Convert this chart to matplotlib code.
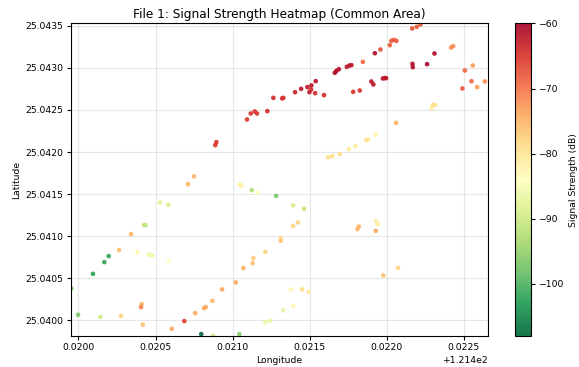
import numpy as np
import matplotlib
matplotlib.use('Agg')
import matplotlib.pyplot as plt

# longitude / latitude / signal (dB)
lon = [121.420888, 121.420895, 121.421094, 121.421118, 121.421144, 121.421159, 121.421226,
       121.421265, 121.421322, 121.421330, 121.421406, 121.421445, 121.421486, 121.421512,
       121.421540, 121.421499, 121.421510, 121.421536, 121.421594, 121.421664, 121.421674,
       121.421690, 121.421742, 121.421759, 121.421772, 121.421846, 121.421924, 121.421960,
       121.422021, 121.422031, 121.422047, 121.422064, 121.422166, 121.422196, 121.422220,
       121.422311, 121.422168, 121.422170, 121.422263, 121.421783, 121.421826, 121.421901,
       121.421914, 121.421976, 121.421989, 121.421997, 121.422419, 121.422432, 121.422508,
       121.422560, 121.422551, 121.422588, 121.422638, 121.422492,
       121.421620, 121.421648, 121.421696, 121.421755, 121.421798, 121.421867, 121.421880,
       121.421930, 121.422062, 121.422291, 121.422302, 121.422317,
       121.420750, 121.420711, 121.420529, 121.420583, 121.420425, 121.420436, 121.420341,
       121.420263, 121.420382, 121.420458, 121.420479, 121.420586, 121.420196, 121.420168,
       121.420094, 121.419953, 121.419997, 121.420142, 121.420276, 121.420410, 121.420406,
       121.420417, 121.420605, 121.420687, 121.420757, 121.420815, 121.420826, 121.420869,
       121.420797, 121.420873, 121.421044,
       121.421047, 121.421057, 121.421125, 121.421161, 121.421283, 121.421393, 121.421464,
       121.421393, 121.421425, 121.421313, 121.421313, 121.421213, 121.421135, 121.421131,
       121.421070, 121.421021, 121.420932, 121.421378, 121.421451, 121.421495, 121.421328,
       121.421395, 121.421213, 121.421244,
       121.421820, 121.421811, 121.421932, 121.421943, 121.421930, 121.422075, 121.421979]

lat = [25.042082, 25.042118, 25.042387, 25.042458, 25.042482, 25.042458, 25.042486,
       25.042644, 25.042637, 25.042644, 25.042711, 25.042750, 25.042771, 25.042791,
       25.042842, 25.042711, 25.042743, 25.042699, 25.042676, 25.042941, 25.042964,
       25.042984, 25.043012, 25.043028, 25.043032, 25.043071, 25.043174, 25.043218,
       25.043269, 25.043321, 25.043332, 25.043321, 25.043468, 25.043487, 25.043515,
       25.043171, 25.043047, 25.043008, 25.043044, 25.042715, 25.042731, 25.042838,
       25.042803, 25.042874, 25.042878, 25.042878, 25.043242, 25.043258, 25.042969,
       25.043028, 25.042842, 25.042771, 25.042838, 25.042755,
       25.041939, 25.041951, 25.041975, 25.042034, 25.042070, 25.042138, 25.042150,
       25.042204, 25.042347, 25.042521, 25.042560, 25.042560,
       25.041710, 25.041619, 25.041401, 25.041373, 25.041132, 25.041132, 25.041025,
       25.040835, 25.040808, 25.040784, 25.040772, 25.040704, 25.040764, 25.040692,
       25.040553, 25.040380, 25.040067, 25.040043, 25.040055, 25.040194, 25.040158,
       25.039948, 25.039900, 25.039992, 25.040087, 25.040146, 25.040158, 25.040233,
       25.039837, 25.039817, 25.039837,
       25.041615, 25.041599, 25.041547, 25.041520, 25.041480, 25.041366, 25.041325,
       25.041123, 25.041164, 25.040977, 25.040945, 25.040815, 25.040740, 25.040681,
       25.040621, 25.040451, 25.040368, 25.040368, 25.040368, 25.040340, 25.040119,
       25.040170, 25.039980, 25.039995,
       25.041116, 25.041084, 25.041179, 25.041144, 25.041064, 25.040625, 25.040534]

signal = [-65, -65, -65, -65, -65, -65, -64,
          -64, -65, -65, -63, -62, -62, -62,
          -62, -62, -64, -64, -64, -61, -61,
          -61, -62, -62, -62, -69, -61, -67,
          -68, -68, -68, -68, -67, -68, -68,
          -61, -61, -61, -60, -65, -65, -62,
          -62, -62, -62, -62, -72, -72, -69,
          -73, -69, -73, -72, -68,
          -79, -79, -79, -81, -81, -80, -80,
          -82, -75, -81, -79, -80,
          -75, -75, -88, -89, -91, -91, -75,
          -76, -83, -86, -86, -84, -102, -102,
          -102, -97, -97, -90, -78, -75, -71,
          -76, -74, -66, -74, -74, -74, -75,
          -108, -90, -96,
          -82, -82, -93, -84, -97, -89, -91,
          -78, -78, -79, -77, -78, -77, -76,
          -75, -74, -74, -83, -79, -81, -87,
          -83, -87, -87,
          -75, -75, -81, -81, -74, -78, -76]

fig = plt.figure(figsize=(5.79, 3.67), dpi=100)
ax = fig.add_axes([0.122, 0.085, 0.721, 0.851])
cax = fig.add_axes([0.8895, 0.085, 0.0276, 0.851])

sc = ax.scatter(lon, lat, c=signal, cmap='RdYlGn_r', vmin=-108, vmax=-60,
                s=11, alpha=0.9, linewidths=0)
ax.set_xlim(121.419949, 121.422659)
ax.set_ylim(25.039817, 25.043527)
ax.grid(True, alpha=0.3)
ax.set_axisbelow(True)
fs = 6.7
ax.set_xlabel('Longitude', fontsize=fs, labelpad=3)
ax.set_ylabel('Latitude', fontsize=fs, labelpad=3)
ax.set_title('File 1: Signal Strength Heatmap (Common Area)', fontsize=8.7, pad=4)
ax.tick_params(labelsize=fs, length=3, pad=2)
ax.xaxis.get_offset_text().set_fontsize(fs)

cb = fig.colorbar(sc, cax=cax)
cb.set_label('Signal Strength (dB)', fontsize=fs, labelpad=4)
cb.ax.tick_params(labelsize=fs, length=3, pad=2)

fig.savefig('out.png', dpi=100)
